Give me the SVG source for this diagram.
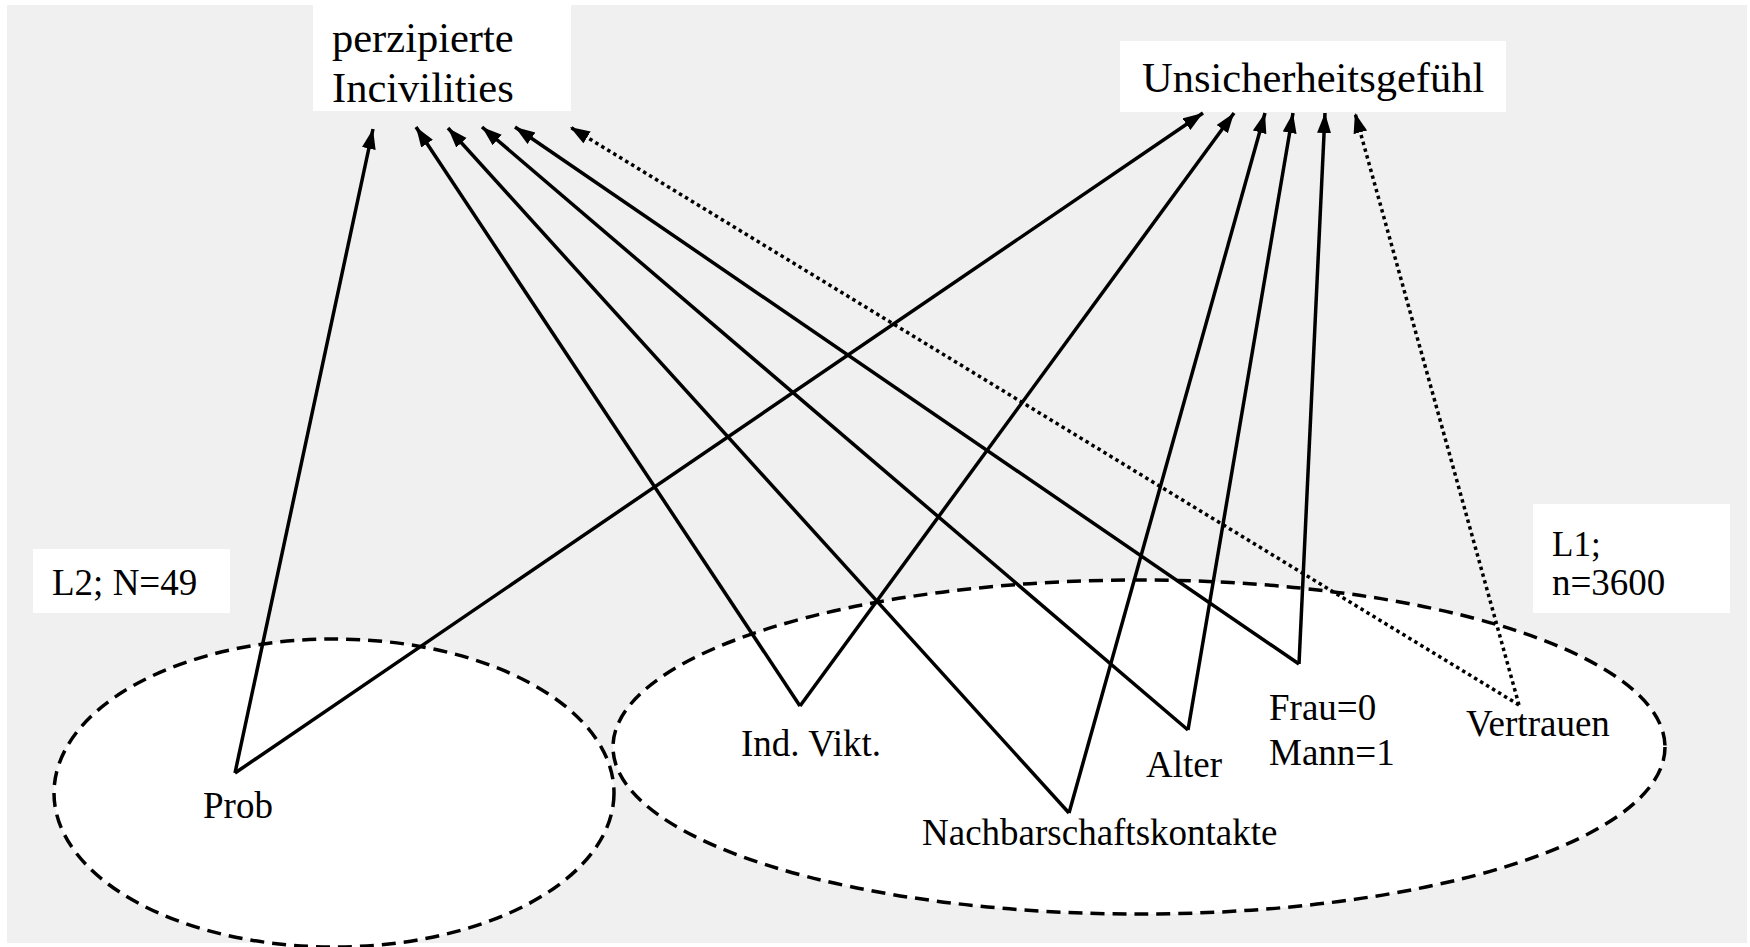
<svg xmlns="http://www.w3.org/2000/svg" width="1750" height="947" viewBox="0 0 1750 947">
<style>
text{font-family:"Liberation Serif","Times New Roman",serif;fill:#000}
.big{font-size:42.5px}
.lbl{font-size:37px}
.sm{font-size:35px}
.box{fill:#fff}
.lvl{fill:#fff;stroke:#000;stroke-width:3.5;stroke-dasharray:14 8}
.c{stroke:#000;stroke-width:3.5;fill:none;marker-end:url(#ah)}
.d{stroke:#000;stroke-width:3.5;fill:none;stroke-dasharray:3.5 3.5;marker-end:url(#ah)}
</style>
<defs>
<marker id="ah" markerUnits="userSpaceOnUse" markerWidth="22" markerHeight="16" refX="20" refY="7" orient="auto">
<path d="M0,0 L20,7 L0,14 z" fill="#000"/>
</marker>
</defs>
<rect x="0" y="0" width="1750" height="947" fill="#fff"/>
<rect x="7" y="5" width="1740" height="938" fill="#f0f0f0"/>
<g id="level2">
<ellipse class="lvl" cx="334" cy="793" rx="280" ry="154"/>
<rect class="box" x="33" y="549" width="197" height="64"/>
<text class="lbl" x="52" y="595">L2; N=49</text>
</g>
<g id="level1">
<ellipse class="lvl" cx="1139" cy="747" rx="526" ry="167"/>
<rect class="box" x="1533" y="504" width="197" height="109"/>
<text class="sm" x="1552" y="556">L1;</text>
<text class="lbl" x="1552" y="595">n=3600</text>
</g>
<g id="incivilities">
<rect class="box" x="313" y="5" width="258" height="106"/>
<text class="big" x="332" y="52">perzipierte</text>
<text class="big" x="332" y="102">Incivilities</text>
</g>
<g id="unsicherheitsgefuehl">
<rect class="box" x="1120" y="41" width="386" height="71"/>
<text class="big" x="1142" y="92">Unsicherheitsgefühl</text>
</g>
<g id="connectors">
<line class="c" x1="235" y1="773" x2="373" y2="129"/>
<line class="c" x1="235" y1="773" x2="1203" y2="113"/>
<line class="c" x1="800" y1="706" x2="416" y2="127"/>
<line class="c" x1="800" y1="706" x2="1234" y2="113"/>
<line class="c" x1="1069" y1="813" x2="448" y2="128"/>
<line class="c" x1="1069" y1="813" x2="1265" y2="113"/>
<line class="c" x1="1188" y1="730" x2="482" y2="127"/>
<line class="c" x1="1188" y1="730" x2="1293" y2="113"/>
<line class="c" x1="1299" y1="664" x2="515" y2="127"/>
<line class="c" x1="1299" y1="664" x2="1325" y2="113"/>
<line class="d" x1="1519" y1="705" x2="570" y2="127"/>
<line class="d" x1="1519" y1="705" x2="1355" y2="113"/>
</g>
<g id="prob"><text class="lbl" x="203" y="818">Prob</text></g>
<g id="indvikt"><text class="lbl" x="741" y="756">Ind. Vikt.</text></g>
<g id="nachbarschaftskontakte"><text class="lbl" x="922" y="845">Nachbarschaftskontakte</text></g>
<g id="alter"><text class="lbl" x="1146" y="777">Alter</text></g>
<g id="geschlecht"><text class="lbl" x="1269" y="720">Frau=0</text><text class="lbl" x="1269" y="765">Mann=1</text></g>
<g id="vertrauen"><text class="lbl" x="1466" y="736">Vertrauen</text></g>
</svg>
